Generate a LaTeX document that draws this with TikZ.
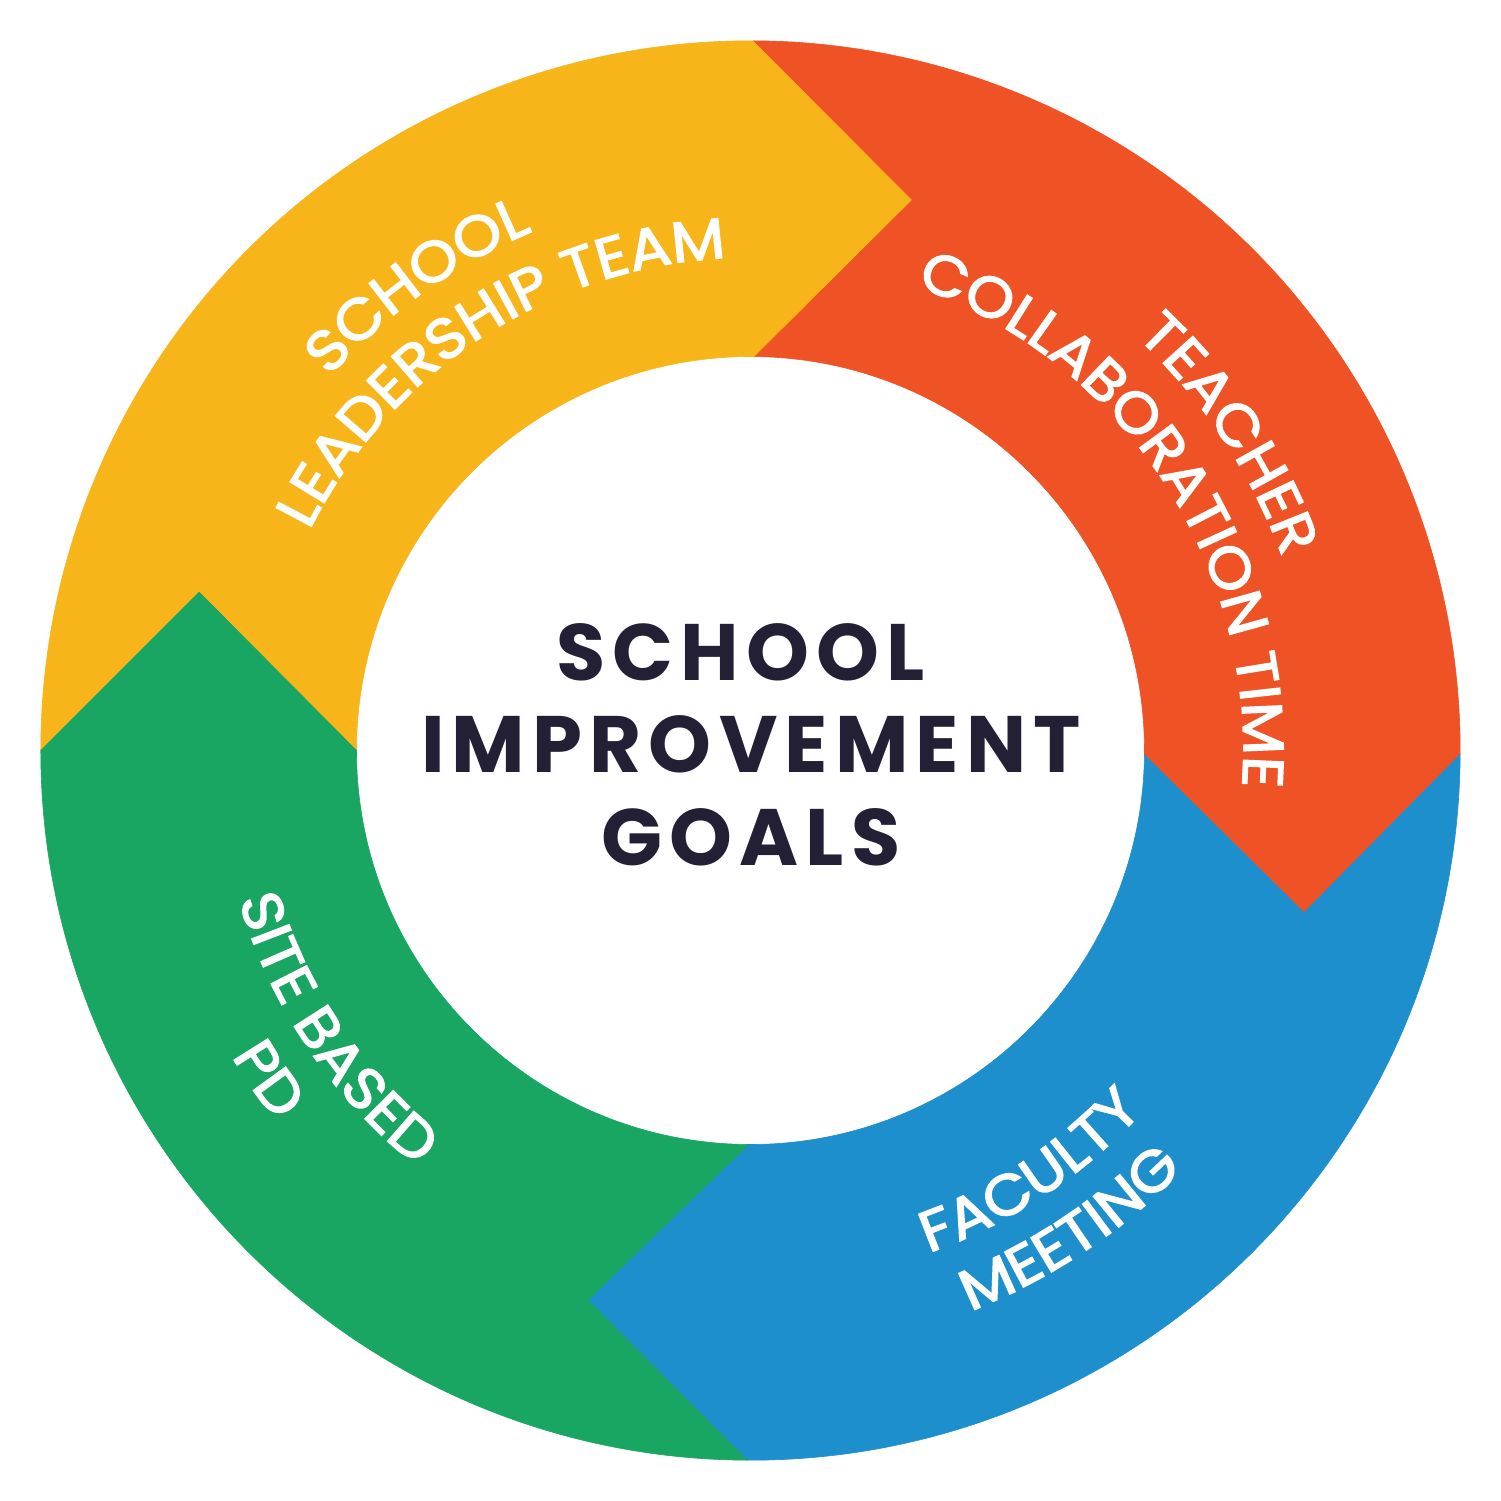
\documentclass[tikz,border=0pt]{standalone}
\usepackage{fontspec}
\usetikzlibrary{decorations.text}
\newfontfamily\popcenter{Poppins}[LetterSpace=9]
\newfontfamily\poplab{Poppins}[FakeStretch=1.09, FakeBold=2.6]
\newfontfamily\poplabnarrow{Poppins}[FakeStretch=1.075, FakeBold=2.6]
\newcommand\wlab{\poplab\fontsize{57}{60}\selectfont}
\newcommand\wlabn{\poplabnarrow\fontsize{57}{60}\selectfont}
\definecolor{segyellow}{HTML}{F7B51A}
\definecolor{segred}{HTML}{EF5325}
\definecolor{segblue}{HTML}{1E8FCD}
\definecolor{seggreen}{HTML}{18A662}
\definecolor{navytext}{HTML}{231F35}
\tikzset{
  seg/.style={draw=#1, fill=#1, line width=0.6pt, line join=miter},
  arclabel/.style={decorate, decoration={text along path, text color=white, text align=center, text={#1}}},
  centertext/.style={font=\popcenter\bfseries\fontsize{80}{90}\selectfont, text=navytext, inner sep=0pt, anchor=base},
}
\begin{document}
\begin{tikzpicture}[x=1pt,y=1pt]
\useasboundingbox (-750.5,-750.5) rectangle (750.5,750.5);
\fill[white] (-750.5,-750.5) rectangle (750.5,750.5);
% chevron tips
\coordinate (tipTop) at (162,550.5);
\coordinate (tipRight) at (553.5,-162.2);
\coordinate (tipBottom) at (-162.6,-549.7);
\coordinate (tipLeft) at (-551.3,158.3);
% segments
\path[seg=segyellow] (180:709.7) arc[start angle=180, end angle=89.72, radius=709.7] -- (tipTop) -- (89.35:394) arc[start angle=89.35, end angle=180, radius=394] -- (tipLeft) -- cycle;
\path[seg=segred] (89.72:709.7) arc[start angle=89.72, end angle=-0.32, radius=709.7] -- (tipRight) -- (-0.65:394) arc[start angle=-0.65, end angle=89.35, radius=394] -- (tipTop) -- cycle;
\path[seg=segblue] (-0.32:709.7) arc[start angle=-0.32, end angle=-90.28, radius=709.7] -- (tipBottom) -- (-90.29:394) arc[start angle=-90.29, end angle=-0.65, radius=394] -- (tipRight) -- cycle;
\path[seg=seggreen] (-90.28:709.7) arc[start angle=-90.28, end angle=-180, radius=709.7] -- (tipLeft) -- (-180:394) arc[start angle=-180, end angle=-90.29, radius=394] -- (tipBottom) -- cycle;
% curved labels
\path[arclabel={|\wlab|SCHOOL}] (145.6:563) arc[start angle=145.6, end angle=105.6, radius=563];
\path[arclabel={|\wlab|LEADERSHIP TEAM}] (163.15:493) arc[start angle=163.15, end angle=83.15, radius=493];
\path[arclabel={|\wlab|TEACHER}] (53.5:566) arc[start angle=53.5, end angle=13.5, radius=566];
\path[arclabel={|\wlabn|COLLABORATION TIME}] (73.1:493) arc[start angle=73.1, end angle=-6.9, radius=493];
\path[arclabel={|\wlab|FACULTY}] (-76.5:533) arc[start angle=-76.5, end angle=-36.5, radius=533];
\path[arclabel={|\wlab|MEETING}] (-76.3:602) arc[start angle=-76.3, end angle=-36.3, radius=602];
\path[arclabel={|\wlab|SITE BASED}] (193.8:533) arc[start angle=193.8, end angle=233.8, radius=533];
\path[arclabel={|\wlab|PD}] (204.3:602) arc[start angle=204.3, end angle=224.3, radius=602];
% centre text
\node[centertext] (goalsA) at (-10,70.3) {SCHOOL};
\node[centertext] (goalsB) at (0.5,-22.4) {IMPROVEMENT};
\node[centertext] (goalsC) at (0.5,-115.2) {GOALS};
\end{tikzpicture}
\end{document}
